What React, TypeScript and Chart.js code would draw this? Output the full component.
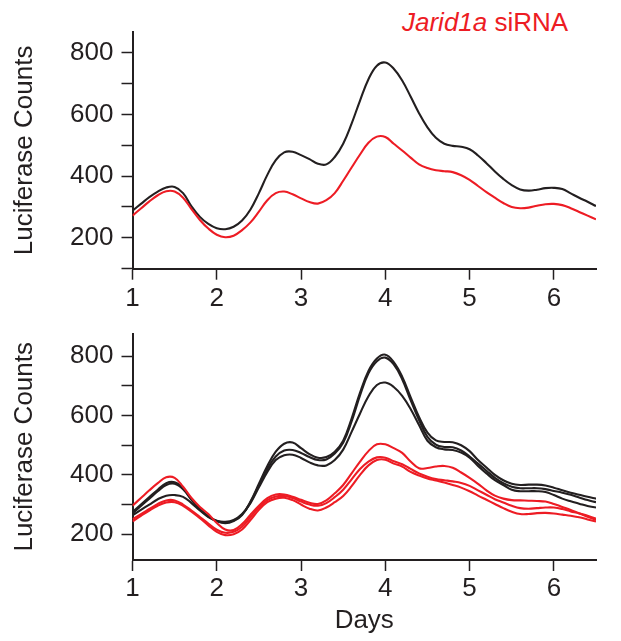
import React, { useEffect, useRef } from 'react';
import { Chart, registerables } from 'chart.js';

Chart.register(...registerables);

// ---------- data ----------
const DAYS = [
  1.0, 1.1, 1.2, 1.3, 1.4, 1.5, 1.6, 1.7, 1.8, 1.9,
  2.0, 2.1, 2.2, 2.3, 2.4, 2.5, 2.6, 2.7, 2.8, 2.9,
  3.0, 3.1, 3.2, 3.3, 3.4, 3.5, 3.6, 3.7, 3.8, 3.9,
  4.0, 4.1, 4.2, 4.3, 4.4, 4.5, 4.6, 4.7, 4.8, 4.9,
  5.0, 5.1, 5.2, 5.3, 5.4, 5.5, 5.6, 5.7, 5.8, 5.9,
  6.0, 6.1, 6.2, 6.3, 6.4, 6.5,
];

// Top panel: averaged traces
const TOP_CONTROL = [
  288, 310, 332, 350, 363, 365, 345, 302, 268, 245,
  231, 228, 236, 256, 292, 345, 404, 452, 477, 479,
  468, 455, 440, 438, 462, 505, 570, 645, 714, 758,
  768, 748, 710, 658, 604, 558, 524, 505, 498, 495,
  487, 467, 442, 415, 391, 371, 357, 353, 356, 361,
  362, 358, 344, 330, 317, 303,
];
const TOP_SIRNA = [
  272, 295, 318, 338, 351, 350, 330, 293, 258, 230,
  210, 202, 207, 225, 250, 285, 322, 345, 350, 341,
  328, 316, 311, 322, 345, 385, 428, 470, 508, 528,
  527, 505, 483, 460, 438, 426, 419, 416, 413, 403,
  388, 368, 348, 330, 313, 300, 296, 298, 304, 309,
  310, 306, 296, 284, 272, 260,
];

// Bottom panel: individual replicates
const BOTTOM_CONTROL_1 = [
  275, 300, 325, 350, 372, 375, 355, 318, 285, 260,
  244, 237, 244, 265, 310, 370, 430, 478, 505, 509,
  490, 470, 458, 460, 478, 515, 590, 677, 750, 792,
  805, 780, 731, 662, 595, 542, 516, 511, 510, 500,
  480, 450, 425, 400, 382, 370, 366, 367, 367, 364,
  357, 348, 340, 333, 326, 320,
];
const BOTTOM_CONTROL_2 = [
  270, 295, 320, 345, 366, 370, 352, 316, 284, 260,
  245, 240, 246, 266, 308, 365, 420, 462, 482, 484,
  474, 460, 450, 452, 472, 508, 580, 668, 742, 783,
  795, 772, 722, 652, 585, 528, 502, 494, 493, 482,
  462, 438, 414, 390, 372, 360, 355, 355, 355, 352,
  346, 340, 333, 324, 315, 308,
];
const BOTTOM_CONTROL_3 = [
  264, 282, 300, 318, 330, 332, 326, 305, 280, 258,
  245, 242, 248, 268, 305, 358, 410, 450, 466, 468,
  457, 442, 432, 432, 450, 485, 545, 607, 665, 703,
  711, 696, 666, 622, 568, 515, 493, 486, 484, 475,
  458, 430, 405, 382, 366, 350, 345, 345, 345, 342,
  332, 320, 311, 303, 295, 290,
];
const BOTTOM_SIRNA_1 = [
  296, 322, 348, 372, 392, 390, 360, 322, 292, 268,
  238, 216, 214, 234, 266, 296, 322, 334, 334, 326,
  316, 306, 302, 314, 338, 366, 405, 445, 480, 503,
  503, 490, 474, 445, 422, 423, 428, 430, 424, 408,
  390, 370, 348, 330, 320, 315, 314, 313, 312, 310,
  302, 292, 282, 271, 262, 253,
];
const BOTTOM_SIRNA_2 = [
  250, 268, 285, 302, 314, 314, 300, 280, 258, 236,
  215, 205, 208, 225, 258, 290, 315, 327, 329, 322,
  310, 300, 296, 305, 325, 350, 385, 420, 445, 459,
  458, 446, 436, 420, 405, 394, 386, 382, 378, 373,
  363, 348, 333, 318, 307, 296, 288, 286, 288, 290,
  290, 285, 277, 270, 259, 248,
];
const BOTTOM_SIRNA_3 = [
  243, 262, 280, 296, 307, 308, 296, 276, 254, 230,
  208, 197, 200, 216, 248, 282, 308, 320, 323, 315,
  300, 286, 280, 290, 308, 329, 362, 400, 432, 450,
  451, 438, 428, 410, 398, 388, 381, 374, 366, 357,
  345, 330, 316, 302, 288, 276, 268, 268, 271, 272,
  270, 266, 262, 257, 250, 243,
];

const X_TICK_LABELS = [1, 2, 3, 4, 5, 6];
const Y_TICK_LABELS = [200, 400, 600, 800];
const Y_TITLE = 'Luciferase Counts';
const X_TITLE = 'Days';

// ---------- styles ----------
const INK = '#231f20';
const RED = '#ed1c24';
const FONT = "'Liberation Sans', Arial, Helvetica, sans-serif";

type Series = { values: number[]; color: string };

function buildConfig(
  series: Series[],
  o: {
    yMin: number;
    yMax: number;
    padTop: number;
    xHeight: number;
    xTickPad: number;
    xTitle?: string;
  }
): any {
  const tickFont = { family: FONT, size: 26 };
  return {
    type: 'line',
    data: {
      datasets: series.map((s) => ({
        data: DAYS.map((d, i) => ({ x: d, y: s.values[i] })),
        borderColor: s.color,
        backgroundColor: s.color,
        borderWidth: 2.1,
        pointRadius: 0,
        fill: false,
        tension: 0.4,
        cubicInterpolationMode: 'default',
      })),
    },
    options: {
      animation: false,
      responsive: false,
      events: [],
      layout: { padding: { left: 0, right: 25, top: o.padTop, bottom: 0 } },
      plugins: { legend: { display: false }, tooltip: { enabled: false } },
      scales: {
        x: {
          type: 'linear',
          min: 1,
          max: 6.5,
          ticks: {
            stepSize: 1,
            includeBounds: false,
            autoSkip: false,
            maxRotation: 0,
            color: INK,
            font: tickFont,
            padding: o.xTickPad,
            callback: (v: number) => (X_TICK_LABELS.includes(v) ? String(v) : ''),
          },
          grid: {
            drawOnChartArea: false,
            drawTicks: true,
            tickLength: 11,
            tickColor: INK,
            tickWidth: 1.5,
          },
          border: { display: true, color: INK, width: 2 },
          title: o.xTitle
            ? {
                display: true,
                text: o.xTitle,
                color: INK,
                font: { family: FONT, size: 26 },
                padding: { top: 0, bottom: 5 },
              }
            : { display: false },
          afterFit: (s: any) => {
            s.height = o.xHeight;
          },
        },
        y: {
          type: 'linear',
          min: o.yMin,
          max: o.yMax,
          ticks: {
            stepSize: 100,
            includeBounds: false,
            autoSkip: false,
            color: INK,
            font: tickFont,
            padding: 8,
            callback: (v: number) => (Y_TICK_LABELS.includes(v) ? String(v) : ''),
          },
          grid: {
            drawOnChartArea: false,
            drawTicks: true,
            tickLength: 11,
            tickColor: INK,
            tickWidth: 1.5,
          },
          border: { display: true, color: INK, width: 2 },
          title: {
            display: true,
            text: Y_TITLE,
            color: INK,
            font: { family: FONT, size: 26 },
            padding: { top: 9.4, bottom: 0 },
          },
          afterFit: (s: any) => {
            s.width = 132.5;
          },
        },
      },
    },
  };
}

function Panel({ top, height, config }: { top: number; height: number; config: any }) {
  const ref = useRef<HTMLCanvasElement | null>(null);
  useEffect(() => {
    if (!ref.current) return;
    const chart = new Chart(ref.current, config);
    return () => chart.destroy();
  }, [config]);
  return (
    <canvas
      ref={ref}
      width={621}
      height={height}
      style={{ position: 'absolute', left: 0, top, width: 621, height }}
    />
  );
}

const topConfig = buildConfig(
  [
    { values: TOP_SIRNA, color: RED },
    { values: TOP_CONTROL, color: INK },
  ],
  { yMin: 100, yMax: 867, padTop: 32, xHeight: 41.3, xTickPad: 4 }
);

const bottomConfig = buildConfig(
  [
    { values: BOTTOM_SIRNA_1, color: RED },
    { values: BOTTOM_SIRNA_2, color: RED },
    { values: BOTTOM_SIRNA_3, color: RED },
    { values: BOTTOM_CONTROL_1, color: INK },
    { values: BOTTOM_CONTROL_2, color: INK },
    { values: BOTTOM_CONTROL_3, color: INK },
  ],
  { yMin: 113.2, yMax: 876, padTop: 13, xHeight: 81, xTickPad: 2, xTitle: X_TITLE }
);

export default function App() {
  return (
    <div
      style={{
        position: 'absolute',
        left: 0,
        top: 0,
        width: 621,
        height: 641,
        background: '#ffffff',
        overflow: 'hidden',
      }}
    >
      <div
        style={{
          position: 'absolute',
          left: 402,
          top: 9,
          fontFamily: FONT,
          fontSize: 26,
          lineHeight: '26px',
          color: RED,
          whiteSpace: 'nowrap',
        }}
      >
        <i>Jarid1a</i> siRNA
      </div>
      <Panel top={0} height={310} config={topConfig} />
      <Panel top={310} height={331} config={bottomConfig} />
    </div>
  );
}
